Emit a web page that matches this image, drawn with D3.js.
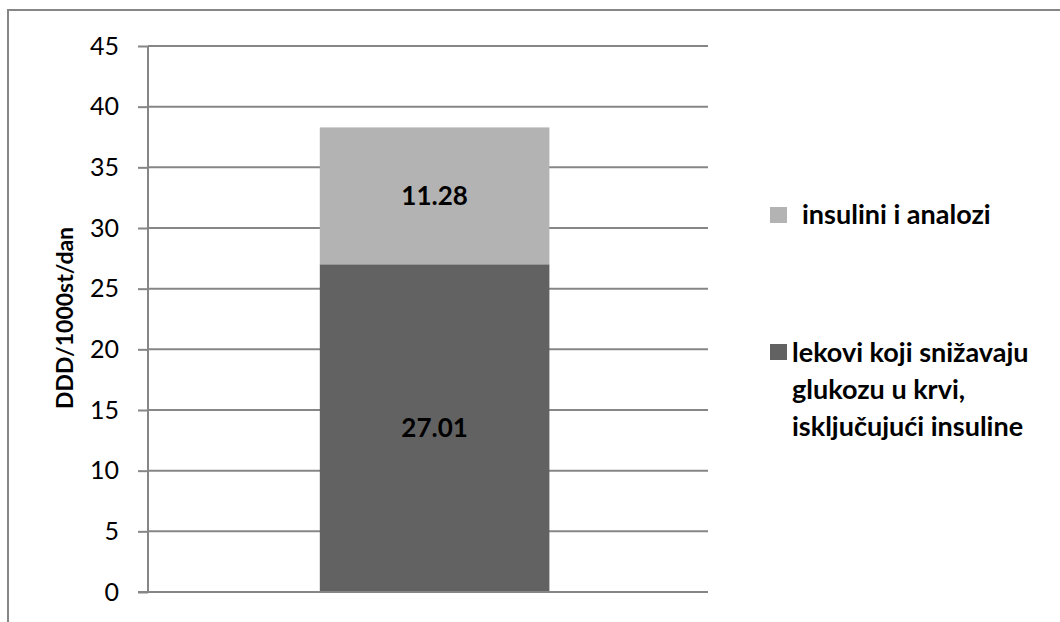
<!DOCTYPE html>
<html>
<head>
<meta charset="utf-8">
<script src="https://cdn.jsdelivr.net/npm/d3@7"></script>
<style>
  html, body { margin: 0; padding: 0; background: #fff; }
  svg { display: block; font-family: Lato, "Open Sans", sans-serif; }
</style>
</head>
<body>
<svg id="chart" width="1060" height="622"></svg>
<script>
// Consumption of antidiabetic drugs, DDD per 1000 inhabitants per day
const categories = ["ukupno"];
const seriesNames = ["lekovi koji snižavaju glukozu u krvi, isključujući insuline", "insulini i analozi"];
const lowerValues = [27.01];
const upperValues = [11.28];
const yTicks = [0, 5, 10, 15, 20, 25, 30, 35, 40, 45];
const seriesColors = ["#626262", "#b3b3b3"];

const FONT = "Lato, 'Open Sans', sans-serif";
const svg = d3.select("#chart");
const gridColor = "#868686";

// outer chart frame
svg.append("rect")
  .attr("x", 8).attr("y", 10)
  .attr("width", 1100).attr("height", 700)
  .attr("fill", "none").attr("stroke", gridColor).attr("stroke-width", 2);

const plot = { left: 148, right: 708, top: 46, bottom: 592 };

const y = d3.scaleLinear().domain([0, 45]).range([plot.bottom, plot.top]);
const x = d3.scaleBand().domain(categories).range([plot.left, plot.right])
  .paddingInner(0.59).paddingOuter(0.294).align(0.52);

// gridlines
svg.append("g").selectAll("line").data(yTicks.filter(d => d > 0)).join("line")
  .attr("x1", plot.left).attr("x2", plot.right)
  .attr("y1", d => y(d)).attr("y2", d => y(d))
  .attr("stroke", gridColor).attr("stroke-width", 2);

// stacked data
const rows = categories.map((c, i) => ({ cat: c, a: lowerValues[i], b: upperValues[i] }));
const stack = d3.stack().keys(["a", "b"])(rows);

stack.forEach((layer, li) => {
  svg.append("g").selectAll("rect").data(layer).join("rect")
    .attr("x", d => x(d.data.cat))
    .attr("width", x.bandwidth())
    .attr("y", d => y(d[1]))
    .attr("height", d => y(d[0]) - y(d[1]))
    .attr("fill", seriesColors[li]);
  svg.append("g").selectAll("text").data(layer).join("text")
    .attr("x", d => x(d.data.cat) + x.bandwidth() / 2)
    .attr("y", d => (y(d[0]) + y(d[1])) / 2)
    .attr("dy", "0.36em")
    .attr("text-anchor", "middle")
    .attr("font-size", 26).attr("font-weight", "bold").attr("fill", "#000")
    .text(d => (d[1] - d[0]).toFixed(2));
});

// y axis
const yAxis = d3.axisLeft(y).tickValues(yTicks).tickSize(10).tickPadding(19);
const gy = svg.append("g").attr("transform", `translate(${plot.left},0)`).call(yAxis)
  .attr("font-family", FONT).attr("font-size", 25);
gy.select(".domain").remove();
gy.selectAll(".tick line").attr("stroke", gridColor).attr("stroke-width", 2);
gy.selectAll(".tick text").attr("fill", "#000");
svg.append("line")
  .attr("x1", plot.left).attr("x2", plot.left)
  .attr("y1", plot.top).attr("y2", plot.bottom)
  .attr("stroke", gridColor).attr("stroke-width", 2);
// baseline
svg.append("line")
  .attr("x1", plot.left - 10).attr("x2", plot.right)
  .attr("y1", plot.bottom).attr("y2", plot.bottom)
  .attr("stroke", gridColor).attr("stroke-width", 2);

// y axis title
svg.append("text")
  .attr("transform", `translate(73,318) rotate(-90)`)
  .attr("text-anchor", "middle")
  .attr("font-size", 23).attr("font-weight", "bold").attr("fill", "#000")
  .text("DDD/1000st/dan");

// legend
const legend = [
  { name: seriesNames[1], color: seriesColors[1], sx: 770, sy: 207, tx: 802, lines: ["insulini i analozi"], ty: 224 },
  { name: seriesNames[0], color: seriesColors[0], sx: 770, sy: 344, tx: 792, lines: ["lekovi koji snižavaju", "glukozu u krvi,", "isključujući insuline"], ty: 362 }
];
const lg = svg.append("g");
legend.forEach(item => {
  lg.append("rect").attr("x", item.sx).attr("y", item.sy).attr("width", 17).attr("height", 16).attr("fill", item.color);
  const t = lg.append("text").attr("font-size", 27).attr("font-weight", "bold").attr("fill", "#000");
  item.lines.forEach((ln, i) => {
    t.append("tspan").attr("x", item.tx).attr("y", item.ty + i * 37).text(ln);
  });
});
</script>
</body>
</html>
